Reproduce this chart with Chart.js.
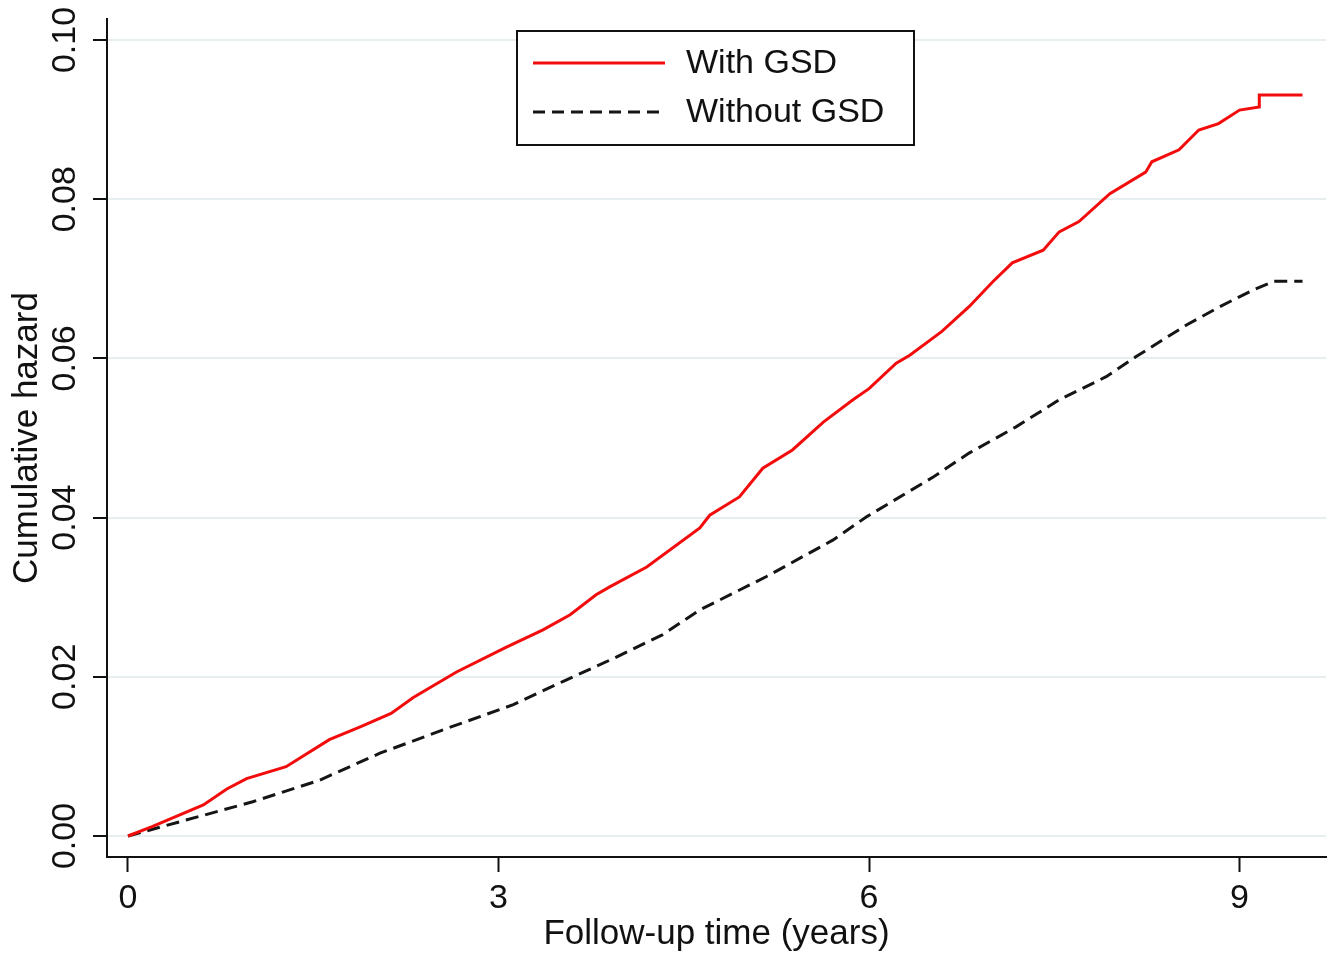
<!DOCTYPE html>
<html>
<head>
<meta charset="utf-8">
<script src="https://cdn.jsdelivr.net/npm/chart.js@4"></script>
<style>
html,body{margin:0;padding:0;background:#fff;}
#wrap{width:1336px;height:958px;position:relative;}
</style>
</head>
<body>
<div id="wrap"><canvas id="c" width="1336" height="958"></canvas></div>
<script>
// ---- data ----
const seriesNames = ["With GSD", "Without GSD"];
const withTime   = [0, 0.2, 0.61, 0.80, 0.96, 1.28, 1.63, 1.88, 2.13, 2.31, 2.66, 3.06, 3.36, 3.58, 3.79, 3.90, 4.20, 4.63, 4.71, 4.95, 5.14, 5.38, 5.63, 5.87, 6.00, 6.22, 6.33, 6.59, 6.81, 7.00, 7.16, 7.41, 7.54, 7.70, 7.95, 8.24, 8.29, 8.51, 8.67, 8.83, 9.00, 9.16, 9.16, 9.51];
const withHazard = [0, 0.0012, 0.0039, 0.0059, 0.0072, 0.0087, 0.0121, 0.0137, 0.0154, 0.0174, 0.0206, 0.0237, 0.0259, 0.0278, 0.0303, 0.0313, 0.0338, 0.0387, 0.0403, 0.0426, 0.0462, 0.0485, 0.0520, 0.0548, 0.0562, 0.0594, 0.0604, 0.0634, 0.0665, 0.0696, 0.0720, 0.0736, 0.0759, 0.0772, 0.0807, 0.0834, 0.0847, 0.0862, 0.0887, 0.0895, 0.0912, 0.0916, 0.0931, 0.0931];
const withoutTime   = [0, 0.47, 1.01, 1.55, 2.04, 2.58, 3.12, 3.52, 3.93, 4.33, 4.63, 5.17, 5.71, 5.98, 6.52, 6.81, 7.19, 7.54, 7.92, 8.16, 8.57, 8.84, 9.11, 9.28, 9.51];
const withoutHazard = [0, 0.0020, 0.0043, 0.0070, 0.0104, 0.0135, 0.0165, 0.0194, 0.0223, 0.0253, 0.0284, 0.0326, 0.0372, 0.0401, 0.0451, 0.0481, 0.0514, 0.0548, 0.0577, 0.0602, 0.0642, 0.0665, 0.0686, 0.0697, 0.0697];
const xTickValues = [0, 3, 6, 9];
const yTickValues = [0, 0.02, 0.04, 0.06, 0.08, 0.10];
const yTickLabels = ["0.00", "0.02", "0.04", "0.06", "0.08", "0.10"];
const xTitle = "Follow-up time (years)";
const yTitle = "Cumulative hazard";

const FONT = "'Liberation Sans', Arial, Helvetica, sans-serif";
const toPts = (xs, ys) => xs.map((x, i) => ({x: x, y: ys[i]}));

const textPlugin = {
  id: 'textPlugin',
  afterDraw(chart) {
    const ctx = chart.ctx;
    const ys = chart.scales.y, ca = chart.chartArea;
    ctx.save();
    ctx.fillStyle = '#111';
    ctx.textAlign = 'center';
    ctx.textBaseline = 'middle';
    // rotated y tick labels
    ctx.font = '34px ' + FONT;
    yTickValues.forEach((v, i) => {
      const py = ys.getPixelForValue(v);
      ctx.save();
      ctx.translate(66, py);
      ctx.rotate(-Math.PI / 2);
      ctx.fillText(yTickLabels[i], 0, 0);
      ctx.restore();
    });
    // axis titles
    ctx.font = '35px ' + FONT;
    ctx.save();
    ctx.translate(27, (ca.top + ca.bottom) / 2);
    ctx.rotate(-Math.PI / 2);
    ctx.fillText(yTitle, 0, 0);
    ctx.restore();
    ctx.fillText(xTitle, (ca.left + ca.right) / 2, 934);
    // legend
    const bx = 517, by = 31, bw = 397, bh = 114;
    ctx.fillStyle = '#fff';
    ctx.fillRect(bx, by, bw, bh);
    ctx.strokeStyle = '#111';
    ctx.lineWidth = 2;
    ctx.strokeRect(bx, by, bw, bh);
    const rows = [63, 112];
    ctx.font = '34px ' + FONT;
    chart.data.datasets.forEach((ds, i) => {
      ctx.save();
      ctx.strokeStyle = ds.borderColor;
      ctx.lineWidth = 3;
      ctx.setLineDash(ds.borderDash ? [12, 7] : []);
      ctx.beginPath();
      ctx.moveTo(533, rows[i]);
      ctx.lineTo(665, rows[i]);
      ctx.stroke();
      ctx.restore();
      ctx.fillStyle = '#111';
      ctx.textAlign = 'left';
      ctx.fillText(ds.label, 686, rows[i] + 1);
    });
    ctx.restore();
  }
};

new Chart(document.getElementById('c'), {
  type: 'line',
  data: {
    datasets: [
      {label: seriesNames[0], data: toPts(withTime, withHazard), borderColor: '#f20c0c', borderWidth: 3, pointRadius: 0, tension: 0, fill: false},
      {label: seriesNames[1], data: toPts(withoutTime, withoutHazard), borderColor: '#151515', borderWidth: 3, borderDash: [13, 7], pointRadius: 0, tension: 0, fill: false}
    ]
  },
  options: {
    responsive: false,
    animation: false,
    layout: {padding: {left: 0, right: 10, top: 19, bottom: 0}},
    plugins: {legend: {display: false}, tooltip: {enabled: false}},
    scales: {
      x: {
        type: 'linear', min: -0.17, max: 9.70,
        afterBuildTicks: s => { s.ticks = xTickValues.map(v => ({value: v})); },
        afterFit: s => { s.height = 101; },
        grid: {drawOnChartArea: false, tickLength: 15, tickColor: '#111', tickWidth: 2},
        border: {color: '#111', width: 2},
        ticks: {font: {size: 34, family: FONT}, color: '#111', padding: 6, maxRotation: 0, callback: v => String(v)}
      },
      y: {
        type: 'linear', min: -0.00264, max: 0.10264,
        afterBuildTicks: s => { s.ticks = yTickValues.map(v => ({value: v})); },
        afterFit: s => { s.width = 107; },
        grid: {color: '#e6eef0', lineWidth: 2, tickLength: 14, tickColor: '#111', tickWidth: 2},
        border: {color: '#111', width: 2},
        ticks: {display: false}
      }
    }
  },
  plugins: [textPlugin]
});
</script>
</body>
</html>
